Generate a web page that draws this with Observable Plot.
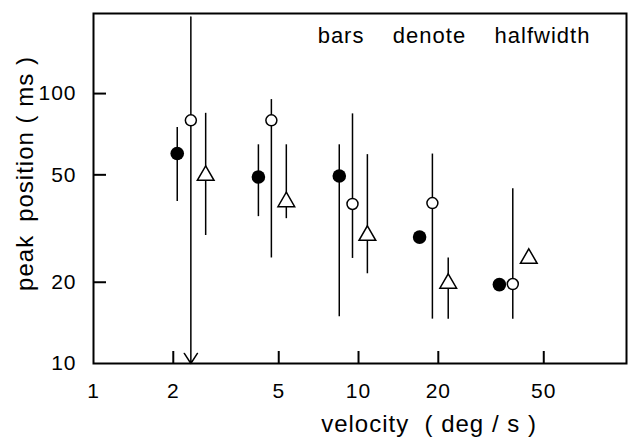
<!DOCTYPE html>
<html><head><meta charset="utf-8">
<script src="https://cdn.jsdelivr.net/npm/d3@7"></script>
<script src="https://cdn.jsdelivr.net/npm/@observablehq/plot@0.6"></script>
<style>body{margin:0;background:#fff;}</style>
</head><body><div id="chart"></div>
<script>
// tick values
const xTickLabels = [1, 2, 5, 10, 20, 50];
const yTickLabels = [10, 20, 50, 100];
const xTickMarks = [2, 5, 10, 20, 50];
const yTickMarks = [20, 50, 100];

// filled circles
const filledVel = [2.07, 4.19, 8.46, 17.0, 34.0];
const filledPeak = [60, 49.1, 49.5, 29.4, 19.6];
const filledLow = [39.8, 35.0, 14.9, null, null];
const filledHigh = [74.9, 64.6, 64.6, null, null];

// open circles (first bar extends below the axis: arrow)
const openVel = [2.33, 4.69, 9.49, 19.0, 38.2];
const openPeak = [79.6, 79.6, 39.0, 39.3, 19.7];
const openLow = [10, 24.6, 24.5, 14.6, 14.6];
const openHigh = [192, 95, 84.1, 59.7, 44.4];
const openArrow = [true, false, false, false, false];

// open triangles
const triVel = [2.65, 5.34, 10.8, 21.8, 43.9];
const triPeak = [49.7, 39.7, 29.8, 19.8, 24.5];
const triLow = [29.8, 34.4, 21.5, 14.6, null];
const triHigh = [84.5, 64.6, 59.4, 24.6, null];

const note = "bars\u2003\u2009denote\u2003\u2009halfwidth";
const xTitle = "velocity  ( deg / s )";
const yTitle = "peak\u2002position ( ms )";

const mk = (xs, ys, lo, hi, arr) => xs.map((x, i) => ({x, y: ys[i], lo: lo[i], hi: hi[i], arrow: arr ? arr[i] : false}));
const filled = mk(filledVel, filledPeak, filledLow, filledHigh);
const open = mk(openVel, openPeak, openLow, openHigh, openArrow);
const tri = mk(triVel, triPeak, triLow, triHigh);
const all = [...filled, ...open, ...tri];
const bars = all.filter(d => d.lo != null && !d.arrow);
const arrows = all.filter(d => d.arrow);

const W = 628, H = 439, mL = 93, mR = 2, mT = 13, mB = 76;
const innerW = W - mL - mR, innerH = H - mT - mB;

const chart = Plot.plot({
  width: W, height: H,
  marginLeft: mL, marginRight: mR, marginTop: mT, marginBottom: mB,
  style: "font-family: 'Liberation Sans', Arial, sans-serif; letter-spacing: 1px; background: white; color: black;",
  x: {type: "log", domain: [1, 102.6], axis: null},
  y: {type: "log", domain: [10, 198], axis: null},
  marks: [
    Plot.text(xTickLabels, {x: d => d, text: d => String(d), frameAnchor: "bottom", lineAnchor: "top", dy: 20, fontSize: 21}),
    Plot.text(yTickLabels, {y: d => d, text: d => String(d), frameAnchor: "left", textAnchor: "end", lineAnchor: "middle", dx: -17, fontSize: 21}),
    Plot.tickX(xTickMarks, {x: d => d, insetTop: innerH - 12, strokeWidth: 2}),
    Plot.tickY(yTickMarks, {y: d => d, insetRight: innerW - 13, strokeWidth: 2}),
    Plot.ruleX(bars, {x: "x", y1: "lo", y2: "hi", strokeWidth: 1.5}),
    Plot.arrow(arrows, {x1: "x", x2: "x", y1: "hi", y2: "lo", strokeWidth: 1.5, headLength: 12, headAngle: 66}),
    Plot.dot(filled, {x: "x", y: "y", r: 6.8, fill: "black", stroke: "none"}),
    Plot.dot(open, {x: "x", y: "y", r: 5.5, fill: "white", stroke: "black", strokeWidth: 1.5}),
    Plot.dot(tri, {x: "x", y: "y", r: 6.2, symbol: "triangle", fill: "white", stroke: "black", strokeWidth: 1.5}),
    Plot.frame({strokeWidth: 2}),
    Plot.text([note], {text: d => d, frameAnchor: "top", textAnchor: "middle", lineAnchor: "middle", dx: 94, dy: 22, fontSize: 22, ariaLabel: "note"}),
    Plot.text([xTitle], {text: d => d, frameAnchor: "bottom", textAnchor: "middle", lineAnchor: "middle", dx: 69, dy: 61, fontSize: 24, ariaLabel: "xtitle"}),
    Plot.text([yTitle], {text: d => d, frameAnchor: "left", rotate: -90, textAnchor: "middle", lineAnchor: "middle", dx: -68, dy: -15, fontSize: 24, ariaLabel: "ytitle"})
  ]
});
const svg = d3.select(chart);
svg.selectAll('g[aria-label="note"] text').style("letter-spacing", "1.5px");
svg.selectAll('g[aria-label="xtitle"] text').style("letter-spacing", "2px").style("white-space", "pre");
svg.selectAll('g[aria-label="ytitle"] text').style("letter-spacing", "2.5px");
document.getElementById("chart").appendChild(chart);
</script>
</body></html>
